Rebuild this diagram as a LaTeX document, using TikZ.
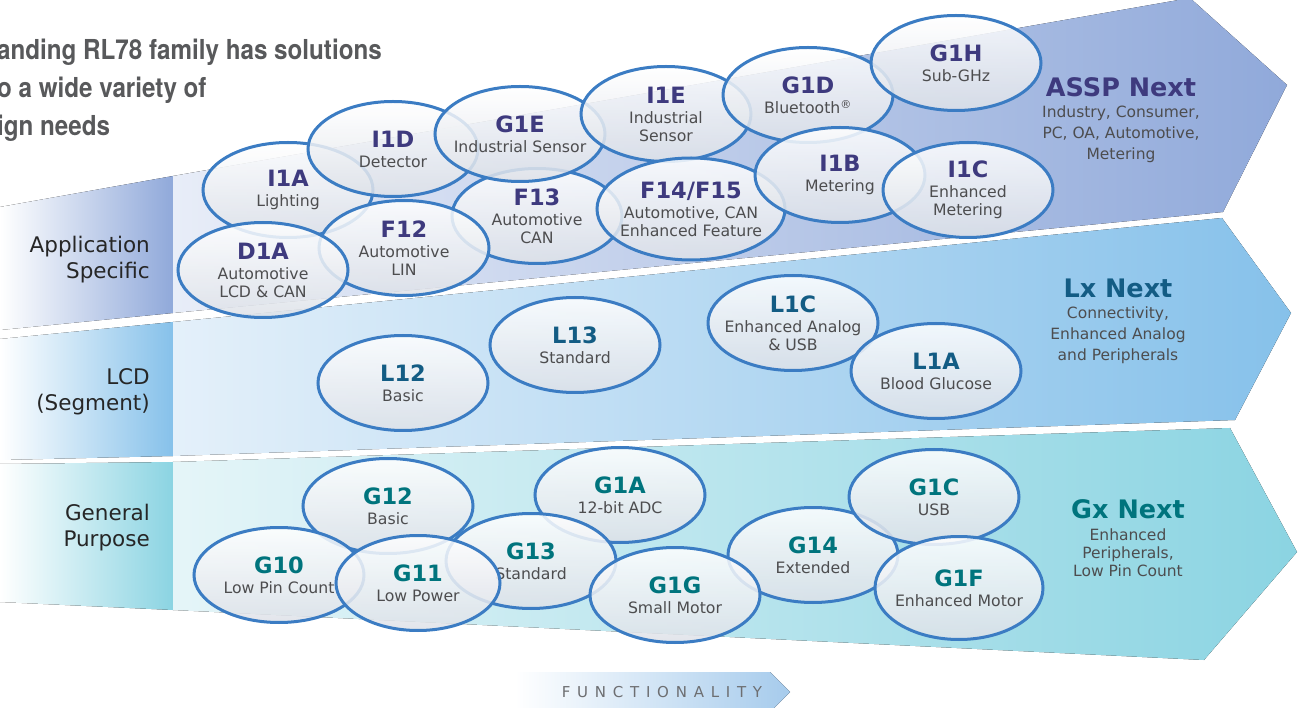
\documentclass[tikz,border=0pt]{standalone}
\usepackage{fontspec}
\setmainfont{DejaVu Sans}
\newfontfamily\headfont[FakeStretch=0.88]{TeX Gyre Heros}
\usetikzlibrary{shapes.geometric,positioning}

\definecolor{asspink}{HTML}{3E3A7E}
\definecolor{lxink}{HTML}{135C84}
\definecolor{gxink}{HTML}{00747D}
\definecolor{notegray}{HTML}{4D4D4F}
\definecolor{headgray}{HTML}{58595B}
\definecolor{funcgray}{HTML}{6D6E71}
\definecolor{chipline}{HTML}{3B7CC3}
\definecolor{chipgray}{HTML}{DDE1E8}
\definecolor{asspband}{HTML}{90A9DA}
\definecolor{asspfade}{HTML}{E8EDF8}
\definecolor{lxband}{HTML}{86C1EA}
\definecolor{lxfade}{HTML}{E4F0FA}
\definecolor{gxband}{HTML}{8BD4E2}
\definecolor{gxfade}{HTML}{E5F5F8}
\definecolor{funcblue}{HTML}{A6CBEC}

\newcommand{\chipname}[2][asspink]{{\color{#1}\fontsize{22.5}{22.5}\selectfont\bfseries #2}}

\tikzset{
  chip/.style={ellipse, draw=chipline, line width=3pt, top color=white, bottom color=chipgray,
    fill opacity=0.85, draw opacity=1, text opacity=1, minimum width=170pt, minimum height=95pt,
    inner xsep=-15pt, inner ysep=0pt, align=center, text=notegray, font=\fontsize{15.7}{18}\selectfont},
  bandtitle/.style={inner sep=0pt, font=\fontsize{25.5}{25.5}\selectfont\bfseries},
  bandnote/.style={inner sep=0pt, align=center, text=notegray, font=\fontsize{15.5}{21}\selectfont},
  rowlabel/.style={anchor=east, align=right, inner sep=0pt, text=black!85, font=\fontsize{21.5}{26}\selectfont},
}

\begin{document}
\begin{tikzpicture}[x=1pt, y=-1pt]
\useasboundingbox (0,0) rectangle (1299,708);

% bands
\fill[left color=white, right color=asspband] (0,207) -- (173,176) -- (173,313) -- (0,330) -- cycle;
\fill[left color=asspfade, right color=asspband] (173,176) -- (1190,-2) -- (1287,85) -- (1223,212) -- (173,313) -- cycle;
\fill[left color=white, right color=lxband] (0,339) -- (173,322) -- (173,456) -- (0,460) -- cycle;
\fill[left color=lxfade, right color=lxband] (173,322) -- (1222,218) -- (1291,313) -- (1235,420) -- (173,456) -- cycle;
\fill[left color=white, right color=gxband] (0,464) -- (173,462) -- (173,610) -- (0,602) -- cycle;
\fill[left color=gxfade, right color=gxband] (173,462) -- (1230,428) -- (1297,552) -- (1204,660) -- (173,610) -- cycle;

\node[anchor=north west, align=left, inner sep=0pt, text=headgray,
  font=\headfont\bfseries\fontsize{27.5}{38}\selectfont] (heading) at (-3,39)
  {anding RL78 family has solutions\\o a wide variety of\\ign needs};

\node[rowlabel] (appspec) at (150,260) {Application\\Specific};
\node[rowlabel] (lcdseg) at (150,392) {LCD\\(Segment)};
\node[rowlabel] (genpurp) at (150,528) {General\\Purpose};

% application specific
\node[chip] (i1a) at (288,190) {\chipname{I1A}\\[2pt]Lighting};
\node[chip] (i1d) at (393,149) {\chipname{I1D}\\[2pt]Detector};
\node[chip] (f13) at (537,216) {\chipname{F13}\\[2pt]Automotive\\CAN};
\node[chip] (g1e) at (520,134) {\chipname{G1E}\\[2pt]Industrial Sensor};
\node[chip] (f12) at (404,248) {\chipname{F12}\\[2pt]Automotive\\LIN};
\node[chip] (d1a) at (263,270) {\chipname{D1A}\\[2pt]Automotive\\LCD \& CAN};
\node[chip] (i1e) at (666,114) {\chipname{I1E}\\[2pt]Industrial\\Sensor};
\node[chip, minimum width=188pt, minimum height=102pt] (f14) at (691,209) {\chipname{F14/F15}\\[2pt]Automotive, CAN\\Enhanced Feature};
\node[chip] (g1d) at (808,95) {\chipname{G1D}\\[2pt]Bluetooth\textsuperscript{®}};
\node[chip] (i1b) at (840,175) {\chipname{I1B}\\[2pt]Metering};
\node[chip] (g1h) at (956,63) {\chipname{G1H}\\[2pt]Sub-GHz};
\node[chip] (i1c) at (968,190) {\chipname{I1C}\\[2pt]Enhanced\\Metering};

\node[bandtitle, text=asspink] (assp) at (1121,87) {ASSP Next};
\node[bandnote, below=9pt of assp] (asspnote) {Industry, Consumer,\\PC, OA, Automotive,\\Metering};

% LCD
\node[chip] (l12) at (403,383) {\chipname[lxink]{L12}\\[2pt]Basic};
\node[chip] (l13) at (575,345) {\chipname[lxink]{L13}\\[2pt]Standard};
\node[chip] (l1c) at (793,323) {\chipname[lxink]{L1C}\\[2pt]Enhanced Analog\\\& USB};
\node[chip] (l1a) at (936,371) {\chipname[lxink]{L1A}\\[2pt]Blood Glucose};

\node[bandtitle, text=lxink] (lx) at (1118,288) {Lx Next};
\node[bandnote, below=9pt of lx] (lxnote) {Connectivity,\\Enhanced Analog\\and Peripherals};

% general purpose
\node[chip] (g12) at (388,506) {\chipname[gxink]{G12}\\[2pt]Basic};
\node[chip] (g1a) at (620,495) {\chipname[gxink]{G1A}\\[2pt]12-bit ADC};
\node[chip] (g13) at (531,561) {\chipname[gxink]{G13}\\[2pt]Standard};
\node[chip] (g10) at (279,575) {\chipname[gxink]{G10}\\[2pt]Low Pin Count};
\node[chip, minimum width=164pt] (g11) at (418,583) {\chipname[gxink]{G11}\\[2pt]Low Power};
\node[chip] (g14) at (813,555) {\chipname[gxink]{G14}\\[2pt]Extended};
\node[chip] (g1g) at (675,595) {\chipname[gxink]{G1G}\\[2pt]Small Motor};
\node[chip] (g1c) at (934,497) {\chipname[gxink]{G1C}\\[2pt]USB};
\node[chip, minimum width=168pt, minimum height=103pt] (g1f) at (959,588) {\chipname[gxink]{G1F}\\[2pt]Enhanced Motor};

\node[bandtitle, text=gxink] (gx) at (1128,509) {Gx Next};
\node[bandnote, below=10pt of gx, font=\fontsize{15.5}{18}\selectfont] (gxnote) {Enhanced\\Peripherals,\\Low Pin Count};

% functionality arrow
\fill[left color=white, right color=funcblue] (515,672) -- (770,672) -- (790,692) -- (770,712) -- (515,712) -- cycle;
\node[text=funcgray, font=\fontsize{15}{15}\selectfont\addfontfeature{LetterSpace=45}] (func) at (662,692) {FUNCTIONALITY};
\end{tikzpicture}
\end{document}
